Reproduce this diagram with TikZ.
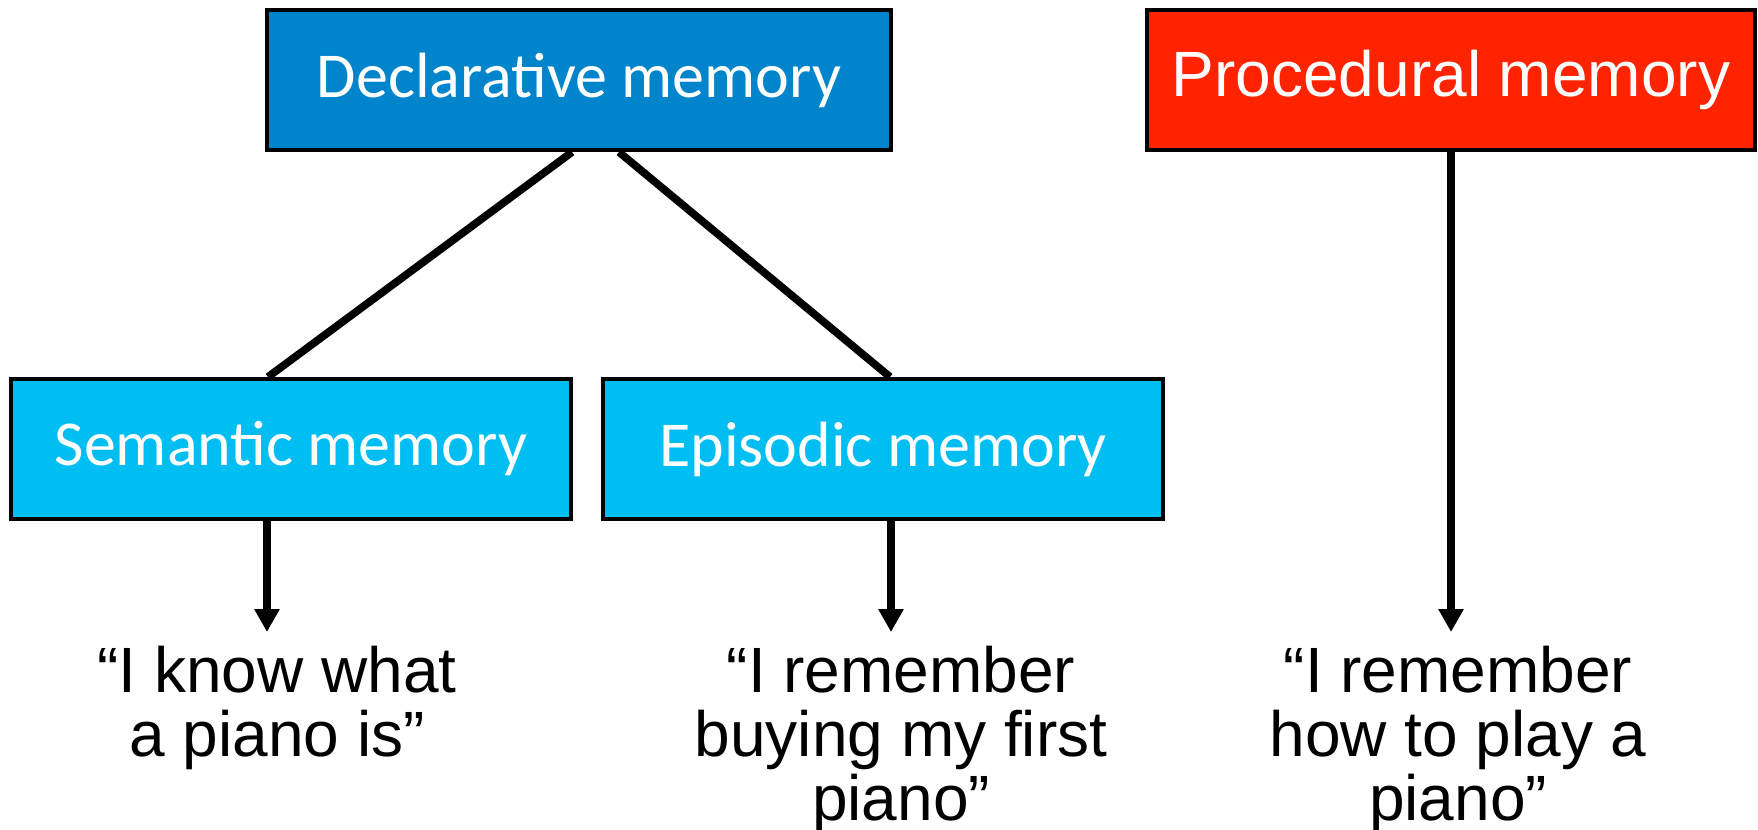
\documentclass[tikz,border=0pt]{standalone}
\usepackage{fontspec}
\setmainfont{Liberation Sans}
\newfontfamily\calib{Carlito}
\usetikzlibrary{arrows.meta}
\definecolor{decblue}{RGB}{0,132,203}
\definecolor{semcyan}{RGB}{0,190,242}
\definecolor{procred}{RGB}{255,35,0}
\begin{document}
\begin{tikzpicture}[x=0.01cm,y=-0.01cm,
  memfont/.style={font=\fontsize{18.2}{18.2}\selectfont},
  membox/.style={draw=black,line width=1.15pt,text=white,inner sep=0pt,
    minimum height=1.4cm},
  quote/.style={memfont,align=center,inner sep=0pt,anchor=north,text=black},
  link/.style={line width=2.2pt,black},
  arr/.style={line width=2.2pt,black,-{Triangle[width=0.24cm,length=0.23cm]}}]
\useasboundingbox (0,0) rectangle (1758,829);

\node[membox,fill=decblue,minimum width=6.23cm,font=\fontsize{18.2}{18.2}\calib] (dec) at (579,80) {Declarative memory};
\node[membox,fill=procred,minimum width=6.07cm,memfont] (proc) at (1451,80) {Procedural memory};
\node[membox,fill=semcyan,minimum width=5.59cm,font=\fontsize{18.2}{18.2}\calib] (sem) at (291,449) {Semantic memory};
\node[membox,fill=semcyan,minimum width=5.59cm,font=\fontsize{18.2}{18.2}\calib] (epi) at (883,449) {Episodic memory};

\node[quote] (t1) at (277,645) {``I know what\\a piano is''};
\node[quote] (t2) at (901,645) {``I remember\\buying my first\\piano''};
\node[quote] (t3) at (1458,645) {``I remember\\how to play a\\piano''};

\coordinate (a1) at (267,632);
\coordinate (a2) at (891,632);
\coordinate (a3) at (1451,632);

\draw[link] ([xshift=-0.07cm]dec.south) -- ([xshift=-0.23cm]sem.north);
\draw[link] ([xshift=0.40cm]dec.south) -- ([xshift=0.07cm]epi.north);
\draw[arr] (sem.south -| a1) -- (a1);
\draw[arr] (epi.south -| a2) -- (a2);
\draw[arr] (proc.south -| a3) -- (a3);
\end{tikzpicture}
\end{document}
